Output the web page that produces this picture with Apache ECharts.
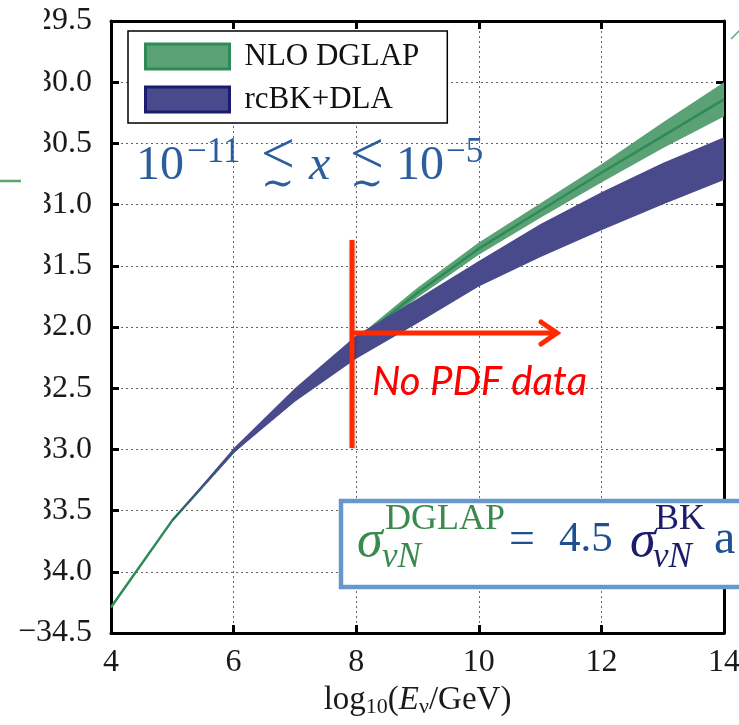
<!DOCTYPE html>
<html>
<head>
<meta charset="utf-8">
<script src="https://cdn.jsdelivr.net/npm/echarts@6/dist/echarts.min.js"></script>
<style>
  html, body { margin: 0; padding: 0; background: #fff; }
  #chart { width: 739px; height: 725px; }
</style>
</head>
<body>
<div id="chart"></div>
<script>
// log10(E/GeV) sample points
const energy = [4, 5, 6, 7, 8, 9, 10, 11, 12, 13, 14];

// NLO DGLAP band + central curve
const dglapCentral = [-34.29, -33.58, -33.02, -32.56, -32.12, -31.72, -31.36, -31.05, -30.74, -30.44, -30.14];
const dglapHigh    = [-34.28, -33.57, -33.01, -32.54, -32.09, -31.68, -31.31, -30.99, -30.67, -30.33, -30.00];
const dglapLow     = [-34.30, -33.59, -33.03, -32.58, -32.15, -31.76, -31.41, -31.11, -30.82, -30.54, -30.28];

// rcBK+DLA band (starts at 5)
const bkHigh = [null, -33.575, -32.99, -32.50, -32.07, -31.77, -31.46, -31.16, -30.90, -30.66, -30.45];
const bkLow  = [null, -33.585, -33.03, -32.61, -32.26, -31.97, -31.67, -31.43, -31.21, -31.00, -30.80];

const xTicks = [4, 6, 8, 10, 12, 14];
const yTicks = [-34.5, -34.0, -33.5, -33.0, -32.5, -32.0, -31.5, -31.0, -30.5, -30.0, -29.5];

const GREEN_FILL = "#5aa275";
const GREEN_LINE = "#2e8b57";
const BLUE_FILL = "#484a8c";
const BLUE_EDGE = "#1b1b6f";
const SERIF = "'Liberation Serif', 'DejaVu Serif', serif";
const NOTE_BLUE = "#2c5e9e";

const chart = echarts.init(document.getElementById("chart"));

const bandRenderer = (low, high, color) => (params, api) => {
    const pts = [];
    energy.forEach((e, i) => {
        if (high[i] != null) pts.push(api.coord([e, high[i]]));
    });
    for (let i = energy.length - 1; i >= 0; i--) {
        if (low[i] != null) pts.push(api.coord([energy[i], low[i]]));
    }
    return { type: "polygon", shape: { points: pts }, style: { fill: color } };
};

const frame = {
    axisLine: { show: true, lineStyle: { color: "#000", width: 3 } },
    axisTick: { show: true, inside: true, length: 8, lineStyle: { color: "#000", width: 3 } }
};
const dotted = { show: true, lineStyle: { color: "#666", width: 1, type: [2, 3] } };
const tickFont = { fontFamily: SERIF, fontSize: 32, color: "#1a1a1a" };

const option = {
    animation: false,
    textStyle: { fontFamily: SERIF },
    grid: { left: 111, right: 15, top: 21, bottom: 92, outerBoundsMode: "none", containLabel: false },
    legend: {
        orient: "vertical",
        left: 128, top: 31,
        padding: [10, 28, 8, 16],
        itemWidth: 84, itemHeight: 25, itemGap: 12,
        backgroundColor: "#fff",
        borderColor: "#000", borderWidth: 1.5,
        textStyle: { fontFamily: SERIF, fontSize: 31, color: "#111", padding: [0, 0, 0, 10] },
        data: [
            { name: "NLO DGLAP", icon: "rect", itemStyle: { color: GREEN_FILL, borderColor: GREEN_LINE, borderWidth: 3 } },
            { name: "rcBK+DLA", icon: "rect", itemStyle: { color: BLUE_FILL, borderColor: BLUE_EDGE, borderWidth: 3 } }
        ]
    },
    xAxis: [
        Object.assign({
            type: "value", position: "bottom", min: xTicks[0], max: xTicks[xTicks.length - 1], interval: 2,
            axisLabel: Object.assign({ margin: 14, formatter: v => String(v) }, tickFont),
            splitLine: dotted,
            name: "{n|log}{s|10}{n|(}{i|E}{s|ν}{n|/GeV)}",
            nameLocation: "middle",
            nameGap: 48,
            nameTextStyle: {
                rich: {
                    n: { fontFamily: SERIF, fontSize: 33, color: "#1a1a1a" },
                    i: { fontFamily: SERIF, fontSize: 33, fontStyle: "italic", color: "#1a1a1a" },
                    s: { fontFamily: SERIF, fontSize: 22, color: "#1a1a1a", padding: [14, 0, 0, 0] }
                }
            }
        }, frame),
        Object.assign({
            type: "value", position: "top", min: xTicks[0], max: xTicks[xTicks.length - 1], interval: 2,
            axisLabel: { show: false }, splitLine: { show: false }
        }, frame)
    ],
    yAxis: [
        Object.assign({
            type: "value", min: yTicks[0], max: yTicks[yTicks.length - 1], interval: 0.5,
            axisLabel: Object.assign({
                margin: 19,
                formatter: v => (v < 0 ? "\u2212" : "") + Math.abs(v).toFixed(1)
            }, tickFont),
            splitLine: dotted
        }, frame),
        Object.assign({
            type: "value", min: yTicks[0], max: yTicks[yTicks.length - 1], interval: 0.5, position: "right",
            axisLabel: { show: false }, splitLine: { show: false }
        }, frame)
    ],
    series: [
        {
            name: "NLO DGLAP", type: "custom", z: 2,
            itemStyle: { color: GREEN_FILL },
            renderItem: bandRenderer(dglapLow, dglapHigh, GREEN_FILL),
            data: [[energy[0], dglapCentral[0]]]
        },
        {
            name: "NLO DGLAP", type: "line", z: 3,
            symbol: "none",
            lineStyle: { color: GREEN_LINE, width: 2.5 },
            itemStyle: { color: GREEN_FILL },
            data: energy.map((e, i) => [e, dglapCentral[i]])
        },
        {
            name: "rcBK+DLA", type: "custom", z: 4,
            itemStyle: { color: BLUE_FILL },
            renderItem: bandRenderer(bkLow, bkHigh, BLUE_FILL),
            data: [[energy[1], bkHigh[1]]]
        }
    ],
    graphic: [
        // white slide overlay hiding the left part of the tick labels
        { type: "rect", z: 100, shape: { x: 0, y: 0, width: 44, height: 600 }, style: { fill: "#fff" } },
        { type: "line", z: 101, shape: { x1: 0, y1: 181, x2: 21, y2: 181 }, style: { stroke: "#5aa56e", lineWidth: 2.5 } },
        { type: "line", z: 101, shape: { x1: 731, y1: 39, x2: 739, y2: 31 }, style: { stroke: "#5aa56e", lineWidth: 1.5 } },

        // x range annotation
        { type: "text", z: 20, left: 136, top: 142, style: { text: "10", fontFamily: SERIF, fontSize: 48, fill: NOTE_BLUE } },
        { type: "text", z: 20, left: 187, top: 135, style: { text: "\u221211", fontFamily: SERIF, fontSize: 35, fill: NOTE_BLUE } },
        { type: "text", z: 20, left: 261, top: 127, style: { text: "<", fontFamily: SERIF, fontSize: 60, fill: NOTE_BLUE } },
        { type: "text", z: 20, left: 261, top: 166, style: { text: "\u223c", fontFamily: "DejaVu Serif", fontSize: 40, fill: NOTE_BLUE } },
        { type: "text", z: 20, left: 309, top: 142, style: { text: "x", fontFamily: SERIF, fontStyle: "italic", fontSize: 48, fill: NOTE_BLUE } },
        { type: "text", z: 20, left: 350, top: 127, style: { text: "<", fontFamily: SERIF, fontSize: 60, fill: NOTE_BLUE } },
        { type: "text", z: 20, left: 350, top: 166, style: { text: "\u223c", fontFamily: "DejaVu Serif", fontSize: 40, fill: NOTE_BLUE } },
        { type: "text", z: 20, left: 396, top: 142, style: { text: "10", fontFamily: SERIF, fontSize: 48, fill: NOTE_BLUE } },
        { type: "text", z: 20, left: 446, top: 135, style: { text: "\u22125", fontFamily: SERIF, fontSize: 35, fill: NOTE_BLUE } },

        // red "no PDF data" marker
        { type: "line", z: 20, shape: { x1: 352, y1: 240, x2: 352, y2: 448 }, style: { stroke: "#ff2a00", lineWidth: 5, shadowBlur: 3, shadowColor: "rgba(0,0,0,0.25)", shadowOffsetX: 1, shadowOffsetY: 1 } },
        { type: "line", z: 20, shape: { x1: 352, y1: 333, x2: 555, y2: 333 }, style: { stroke: "#ff2a00", lineWidth: 5 } },
        { type: "polyline", z: 20, shape: { points: [[541, 322], [557, 333], [541, 344]] }, style: { stroke: "#ff2a00", lineWidth: 5, lineCap: "round", fill: null } },
        {
            type: "text", z: 20, left: 372, top: 362,
            style: { text: "No PDF data", fontFamily: "Lato", fontStyle: "italic", fontSize: 40, fill: "#ff0000" }
        },

        // ratio box
        { type: "rect", z: 30, shape: { x: 341, y: 501, width: 420, height: 86 }, style: { fill: "#fff", stroke: "#6798cb", lineWidth: 4.5 } },
        { type: "text", z: 31, left: 357, top: 516, style: { text: "\u03c3", fontFamily: SERIF, fontStyle: "italic", fontSize: 52, fill: "#3a8a4e" } },
        { type: "text", z: 31, left: 385, top: 502, style: { text: "DGLAP", fontFamily: SERIF, fontSize: 36, fill: "#3a8a4e" } },
        { type: "text", z: 31, left: 382, top: 540, style: { text: "\u03bdN", fontFamily: SERIF, fontStyle: "italic", fontSize: 35, fill: "#3a8a4e" } },
        { type: "text", z: 31, left: 509, top: 518, style: { text: "=", fontFamily: SERIF, fontSize: 46, fill: "#1f4f8f" } },
        { type: "text", z: 31, left: 559, top: 518, style: { text: "4.5", fontFamily: SERIF, fontSize: 43, fill: "#1f4f8f" } },
        { type: "text", z: 31, left: 630, top: 516, style: { text: "\u03c3", fontFamily: SERIF, fontStyle: "italic", fontSize: 52, fill: "#1c1c6c" } },
        { type: "text", z: 31, left: 655, top: 502, style: { text: "BK", fontFamily: SERIF, fontSize: 36, fill: "#1c1c6c" } },
        { type: "text", z: 31, left: 653, top: 540, style: { text: "\u03bdN", fontFamily: SERIF, fontStyle: "italic", fontSize: 35, fill: "#1c1c6c" } },
        { type: "text", z: 31, left: 714, top: 516, style: { text: "a", fontFamily: SERIF, fontSize: 48, fill: "#1f4f8f" } }
    ]
};

chart.setOption(option);
</script>
</body>
</html>
